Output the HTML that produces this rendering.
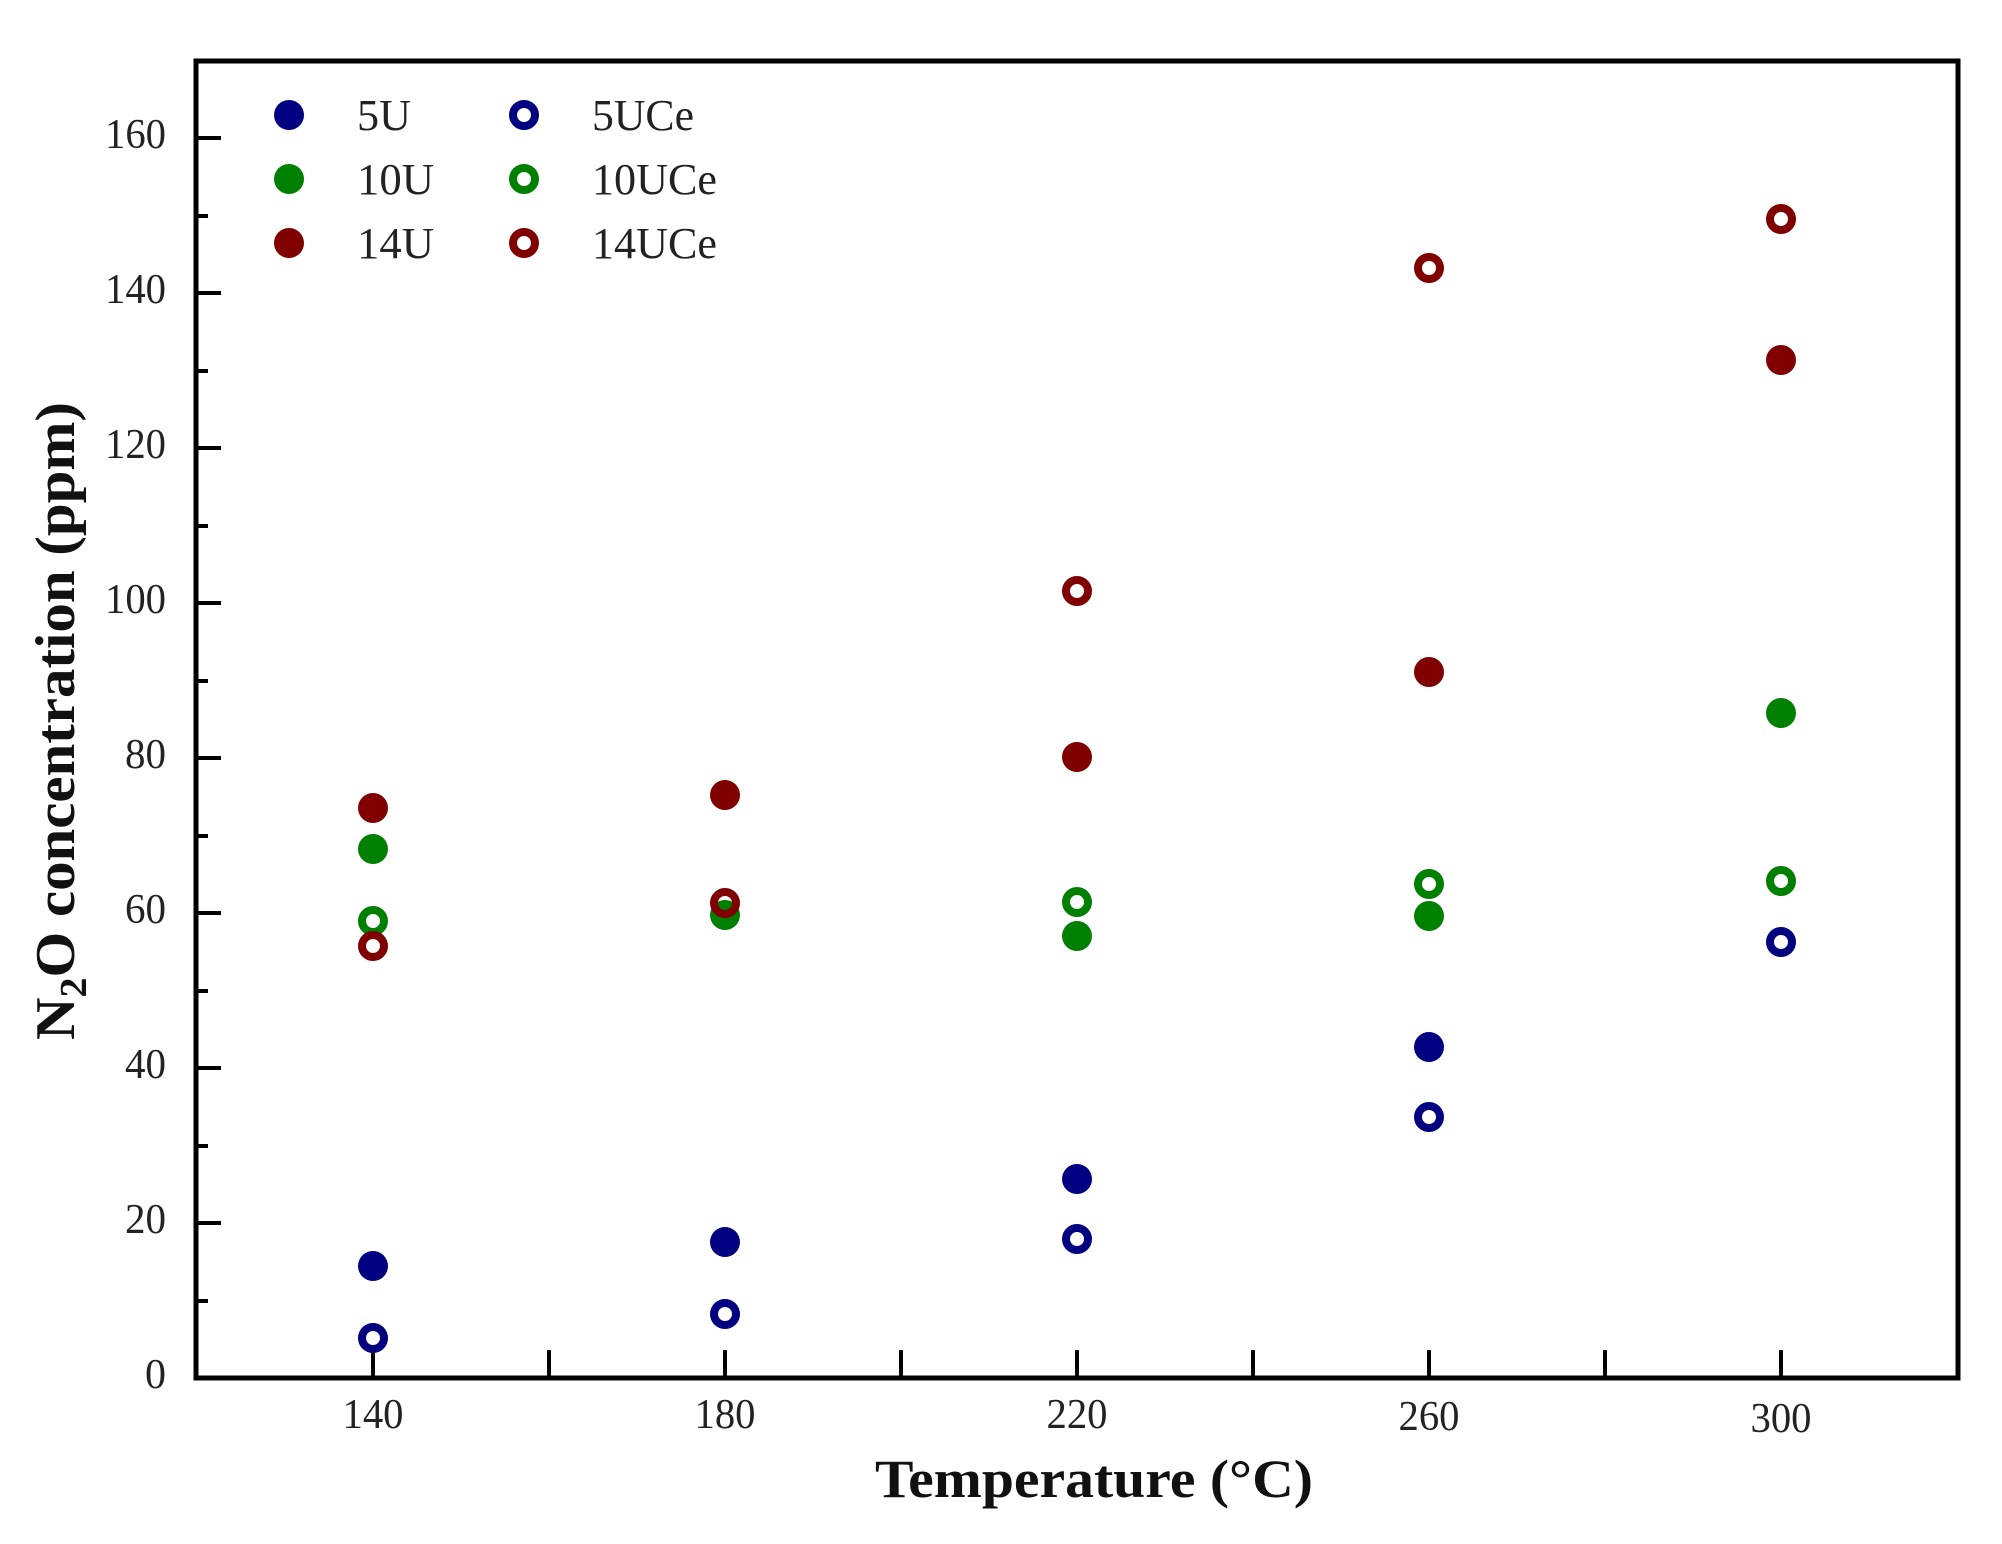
<!DOCTYPE html>
<html><head><meta charset="utf-8"><style>html,body{margin:0;padding:0;background:#fff}svg{display:block}</style></head>
<body>
<svg width="2002" height="1544" viewBox="0 0 2002 1544" xmlns="http://www.w3.org/2000/svg" font-family="'Liberation Serif', serif">
<rect width="2002" height="1544" fill="#fff"/>
<g stroke="#000" stroke-width="4">
<rect x="196" y="61" width="1762" height="1317" fill="none" stroke-width="5"/>
<path d="M196 1378h25M196 1301h12M196 1223h25M196 1146h12M196 1068h25M196 991h12M196 913h25M196 836h12M196 758h25M196 681h12M196 603h25M196 526h12M196 448h25M196 371h12M196 293h25M196 216h12M196 138h25"/>
<path d="M373 1378v-28M549 1378v-28M725 1378v-28M901 1378v-28M1077 1378v-28M1253 1378v-28M1429 1378v-28M1605 1378v-28M1781 1378v-28"/>
</g>
<g font-size="42" fill="#222" text-anchor="end">
<text x="166" y="1388">0</text>
<text x="166" y="1233" textLength="41" lengthAdjust="spacingAndGlyphs">20</text>
<text x="166" y="1078" textLength="41" lengthAdjust="spacingAndGlyphs">40</text>
<text x="166" y="923" textLength="41" lengthAdjust="spacingAndGlyphs">60</text>
<text x="166" y="768" textLength="41" lengthAdjust="spacingAndGlyphs">80</text>
<text x="166" y="613" textLength="61" lengthAdjust="spacingAndGlyphs">100</text>
<text x="166" y="458" textLength="61" lengthAdjust="spacingAndGlyphs">120</text>
<text x="166" y="303" textLength="61" lengthAdjust="spacingAndGlyphs">140</text>
<text x="166" y="148" textLength="61" lengthAdjust="spacingAndGlyphs">160</text>
</g>
<g font-size="42" fill="#222" text-anchor="middle">
<text x="373" y="1428" textLength="61" lengthAdjust="spacingAndGlyphs">140</text>
<text x="725" y="1428" textLength="61" lengthAdjust="spacingAndGlyphs">180</text>
<text x="1077" y="1428" textLength="61" lengthAdjust="spacingAndGlyphs">220</text>
<text x="1429" y="1430" textLength="61" lengthAdjust="spacingAndGlyphs">260</text>
<text x="1781" y="1432" textLength="61" lengthAdjust="spacingAndGlyphs">300</text>
</g>
<text x="875" y="1497" font-size="54" font-weight="bold" fill="#111" textLength="438" lengthAdjust="spacingAndGlyphs">Temperature (°C)</text>
<text transform="translate(74,1040) rotate(-90)" font-size="56" font-weight="bold" fill="#111" textLength="638" lengthAdjust="spacingAndGlyphs">N<tspan font-size="38" dy="12">2</tspan><tspan dy="-12">O concentration (ppm)</tspan></text>
<g fill="#000080">
<circle cx="373" cy="1266" r="15"/><circle cx="725" cy="1242" r="15"/><circle cx="1077" cy="1179" r="15"/><circle cx="1429" cy="1047" r="15"/>
</g>
<g fill="none" stroke="#000080" stroke-width="8">
<circle cx="373" cy="1338" r="11"/><circle cx="725" cy="1314" r="11"/><circle cx="1077" cy="1239" r="11"/><circle cx="1429" cy="1117" r="11"/><circle cx="1781" cy="942" r="11"/>
</g>
<g fill="#008000">
<circle cx="373" cy="849" r="15"/><circle cx="725" cy="915" r="15"/><circle cx="1077" cy="936" r="15"/><circle cx="1429" cy="916" r="15"/><circle cx="1781" cy="713" r="15"/>
</g>
<g fill="none" stroke="#008000" stroke-width="8">
<circle cx="373" cy="921" r="11"/><circle cx="1077" cy="902" r="11"/><circle cx="1429" cy="884" r="11"/><circle cx="1781" cy="881" r="11"/>
</g>
<g fill="#800000">
<circle cx="373" cy="808" r="15"/><circle cx="725" cy="795" r="15"/><circle cx="1077" cy="757" r="15"/><circle cx="1429" cy="672" r="15"/><circle cx="1781" cy="360" r="15"/>
</g>
<g fill="none" stroke="#800000" stroke-width="8">
<circle cx="373" cy="946" r="11"/><circle cx="725" cy="903" r="11"/><circle cx="1077" cy="591" r="11"/><circle cx="1429" cy="268" r="11"/><circle cx="1781" cy="219" r="11"/>
</g>
<circle cx="289" cy="115" r="15" fill="#000080"/>
<circle cx="289" cy="179" r="15" fill="#008000"/>
<circle cx="289" cy="243" r="15" fill="#800000"/>
<circle cx="524" cy="115" r="11" fill="none" stroke="#000080" stroke-width="8"/>
<circle cx="524" cy="179" r="11" fill="none" stroke="#008000" stroke-width="8"/>
<circle cx="524" cy="243" r="11" fill="none" stroke="#800000" stroke-width="8"/>
<g font-size="44" fill="#222">
<text x="357" y="130" textLength="54" lengthAdjust="spacingAndGlyphs">5U</text>
<text x="357" y="194" textLength="77" lengthAdjust="spacingAndGlyphs">10U</text>
<text x="357" y="258" textLength="77" lengthAdjust="spacingAndGlyphs">14U</text>
<text x="592" y="130" textLength="102" lengthAdjust="spacingAndGlyphs">5UCe</text>
<text x="592" y="194" textLength="125" lengthAdjust="spacingAndGlyphs">10UCe</text>
<text x="592" y="258" textLength="125" lengthAdjust="spacingAndGlyphs">14UCe</text>
</g>
</svg>
</body></html>
